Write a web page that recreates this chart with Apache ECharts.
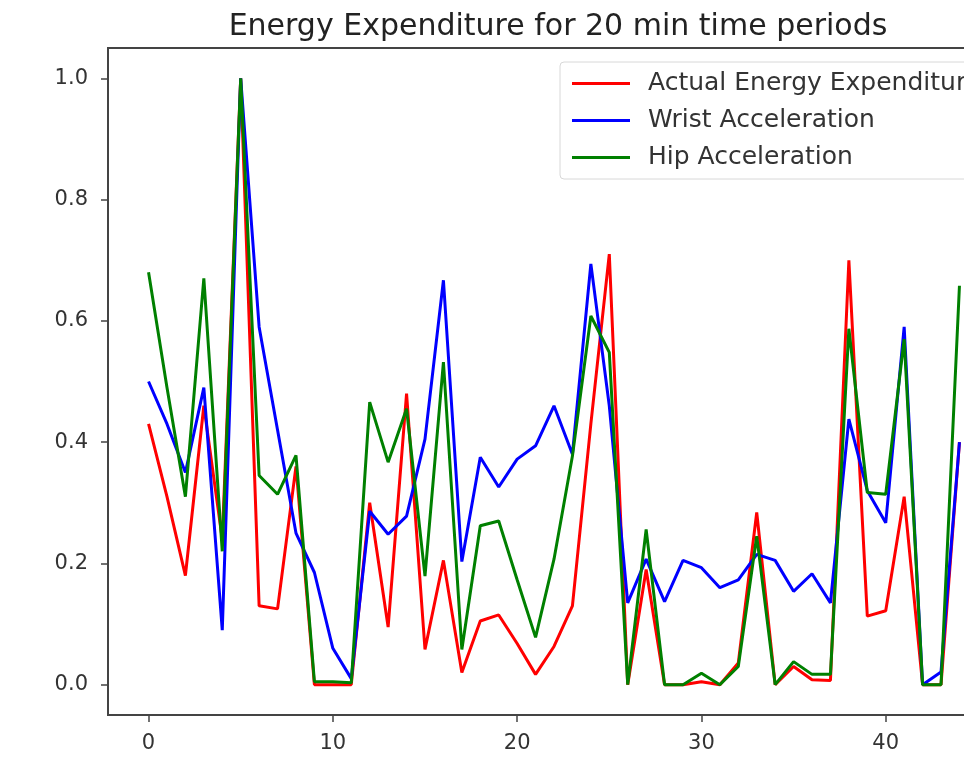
<!DOCTYPE html>
<html>
<head>
<meta charset="UTF-8">
<title>Energy Expenditure</title>
<script src="https://cdn.jsdelivr.net/npm/echarts@6/dist/echarts.min.js"></script>
<style>
  * { margin: 0; padding: 0; }
  html, body { width: 964px; height: 770px; overflow: hidden; background: #fff; }
  #main { width: 1010px; height: 770px; }
</style>
</head>
<body>
<div id="main"></div>
<script>
var periods = [0, 1, 2, 3, 4, 5, 6, 7, 8, 9, 10, 11, 12, 13, 14, 15, 16, 17, 18, 19, 20, 21, 22,
  23, 24, 25, 26, 27, 28, 29, 30, 31, 32, 33, 34, 35, 36, 37, 38, 39, 40, 41, 42, 43, 44];

var actualEE = [0.43, 0.31, 0.18, 0.46, 0.24, 1.0, 0.13, 0.125, 0.36, 0.0, 0.0, 0.0,
  0.30, 0.095, 0.48, 0.058, 0.205, 0.02, 0.105, 0.115, 0.068, 0.017, 0.063, 0.13,
  0.43, 0.71, 0.0, 0.19, 0.0, 0.0, 0.005, 0.0, 0.036, 0.284, 0.0, 0.03, 0.008, 0.007,
  0.70, 0.113, 0.122, 0.31, 0.0, 0.0, 0.40];

var wristAcc = [0.50, 0.43, 0.35, 0.49, 0.09, 1.0, 0.59, 0.42, 0.25, 0.185, 0.06, 0.01,
  0.286, 0.248, 0.278, 0.405, 0.667, 0.203, 0.375, 0.326, 0.372, 0.394, 0.46, 0.38,
  0.694, 0.46, 0.135, 0.207, 0.137, 0.205, 0.193, 0.16, 0.173, 0.215, 0.205, 0.154,
  0.183, 0.135, 0.438, 0.32, 0.267, 0.59, 0.0, 0.021, 0.40];

var hipAcc = [0.68, 0.49, 0.31, 0.67, 0.22, 1.0, 0.345, 0.314, 0.378, 0.005, 0.005, 0.003,
  0.466, 0.367, 0.455, 0.179, 0.532, 0.058, 0.262, 0.27, 0.173, 0.078, 0.207, 0.377,
  0.608, 0.548, 0.0, 0.256, 0.0, 0.0, 0.019, 0.0, 0.03, 0.245, 0.0, 0.038, 0.017, 0.017,
  0.587, 0.317, 0.314, 0.57, 0.0, 0.0, 0.658];

var xTicks = [0, 10, 20, 30, 40];
var yTicks = [0, 0.2, 0.4, 0.6, 0.8, 1.0];

function pairs(vals) {
  return periods.map(function (p, i) { return [p, vals[i]]; });
}

var chart = echarts.init(document.getElementById('main'));
var font = 'DejaVu Sans';

chart.setOption({
  backgroundColor: '#fff',
  animation: false,
  title: {
    text: 'Energy Expenditure for 20 min time periods',
    left: 553,
    top: 7,
    textAlign: 'center',
    textStyle: { fontFamily: font, fontSize: 30, fontWeight: 'normal', color: '#222' }
  },
  legend: {
    orient: 'vertical',
    left: 560,
    top: 62,
    padding: [9, 14, 9, 12],
    itemWidth: 58,
    itemHeight: 3,
    itemGap: 12,
    icon: 'rect',
    backgroundColor: '#fff',
    borderColor: '#d8d8d8',
    borderWidth: 1,
    borderRadius: 4,
    textStyle: { fontFamily: font, fontSize: 25, color: '#333', padding: [0, 0, 0, 13] },
    data: ['Actual Energy Expenditure', 'Wrist Acceleration', 'Hip Acceleration']
  },
  grid: {
    left: 108, top: 48, right: 10, height: 667,
    show: true, borderColor: '#444', borderWidth: 2, backgroundColor: '#fff'
  },
  xAxis: {
    type: 'value',
    min: -2.2,
    max: 46.2,
    splitLine: { show: false },
    axisLine: { show: false, onZero: false },
    axisTick: { show: true, length: 7, lineStyle: { color: '#444', width: 1.5 }, customValues: xTicks },
    axisLabel: {
      fontFamily: font, fontSize: 21, color: '#333', margin: 18,
      customValues: xTicks
    }
  },
  yAxis: {
    type: 'value',
    min: -0.05,
    max: 1.05,
    splitLine: { show: false },
    axisLine: { show: false, onZero: false },
    axisTick: { show: true, length: 7, lineStyle: { color: '#444', width: 1.5 }, customValues: yTicks },
    axisLabel: {
      fontFamily: font, fontSize: 21, color: '#333', margin: 20,
      customValues: yTicks,
      formatter: function (v) { return v.toFixed(1); }
    }
  },
  series: [
    { name: 'Actual Energy Expenditure', type: 'line', data: pairs(actualEE), showSymbol: false,
      color: '#ff0000', lineStyle: { width: 3 } },
    { name: 'Wrist Acceleration', type: 'line', data: pairs(wristAcc), showSymbol: false,
      color: '#0000ff', lineStyle: { width: 3 } },
    { name: 'Hip Acceleration', type: 'line', data: pairs(hipAcc), showSymbol: false,
      color: '#008000', lineStyle: { width: 3 } }
  ]
});
</script>
</body>
</html>
